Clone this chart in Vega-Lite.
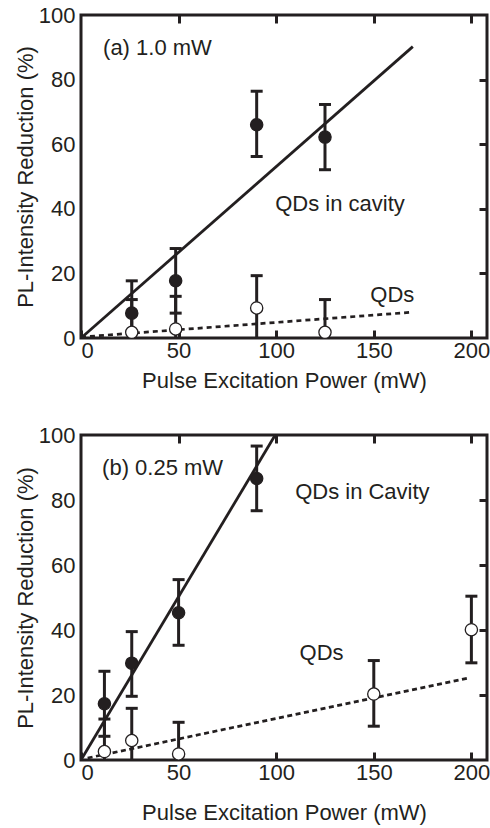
{
  "$schema": "https://vega.github.io/schema/vega-lite/v6.json",
  "autosize": {"type": "pad"},
  "padding": {"left": 12, "top": 2, "right": 0, "bottom": 0},
  "background": "white",
  "spacing": 97,
  "bounds": "flush",
  "datasets": {
    "a_pts": [
      {"p": 26, "r": 7.7, "lo": -2.3, "hi": 17.7, "s": "cavity"},
      {"p": 48.5, "r": 17.7, "lo": 7.7, "hi": 27.7, "s": "cavity"},
      {"p": 90, "r": 66.0, "lo": 56.2, "hi": 76.4, "s": "cavity"},
      {"p": 125, "r": 62.2, "lo": 52.1, "hi": 72.3, "s": "cavity"},
      {"p": 26, "r": 1.75, "lo": -8.2, "hi": 11.9, "s": "bare"},
      {"p": 48.5, "r": 2.8, "lo": -7.2, "hi": 12.9, "s": "bare"},
      {"p": 90, "r": 9.3, "lo": -0.7, "hi": 19.3, "s": "bare"},
      {"p": 125, "r": 1.75, "lo": -8.2, "hi": 11.9, "s": "bare"}
    ],
    "a_fit": [
      {"p": 0, "r": 0, "s": "cavity"},
      {"p": 170, "r": 90.2, "s": "cavity"},
      {"p": 0, "r": 0.3, "s": "bare"},
      {"p": 170, "r": 8.0, "s": "bare"}
    ],
    "a_lab": [
      {"p": 11.3, "r": 89.8, "t": "(a) 1.0 mW"},
      {"p": 99.5, "r": 41.5, "t": "QDs in cavity"},
      {"p": 148.2, "r": 13.3, "t": "QDs"}
    ],
    "b_pts": [
      {"p": 12, "r": 17.3, "lo": 7.3, "hi": 27.3, "s": "cavity"},
      {"p": 26, "r": 29.8, "lo": 19.6, "hi": 39.5, "s": "cavity"},
      {"p": 50, "r": 45.3, "lo": 35.3, "hi": 55.5, "s": "cavity"},
      {"p": 90, "r": 86.6, "lo": 76.7, "hi": 96.6, "s": "cavity"},
      {"p": 12, "r": 2.6, "lo": -7.4, "hi": 12.6, "s": "bare"},
      {"p": 26, "r": 6.0, "lo": -4.0, "hi": 15.9, "s": "bare"},
      {"p": 50, "r": 1.85, "lo": -8.2, "hi": 11.6, "s": "bare"},
      {"p": 150, "r": 20.3, "lo": 10.4, "hi": 30.6, "s": "bare"},
      {"p": 200, "r": 40.1, "lo": 29.9, "hi": 50.4, "s": "bare"}
    ],
    "b_fit": [
      {"p": 0, "r": 0, "s": "cavity"},
      {"p": 99.5, "r": 100, "s": "cavity"},
      {"p": 3.4, "r": 0.6, "s": "bare"},
      {"p": 198.3, "r": 25.2, "s": "bare"}
    ],
    "b_lab": [
      {"p": 10.8, "r": 89.8, "t": "(b) 0.25 mW"},
      {"p": 109.7, "r": 82.5, "t": "QDs in Cavity"},
      {"p": 112, "r": 32.9, "t": "QDs"}
    ]
  },
  "config": {
    "view": {"stroke": "#231f20", "strokeWidth": 3},
    "axis": {
      "grid": false,
      "domain": false,
      "labelFont": "Liberation Sans",
      "titleFont": "Liberation Sans",
      "labelFontSize": 22,
      "titleFontSize": 22,
      "titleFontWeight": "normal",
      "labelColor": "#231f20",
      "titleColor": "#231f20",
      "tickColor": "#231f20",
      "tickWidth": 3
    },
    "text": {"font": "Liberation Sans", "fontSize": 22, "color": "#231f20"}
  },
  "vconcat": [
    {
      "width": 406,
      "height": 323,
      "resolve": {"axis": {"x": "independent", "y": "independent"}},
      "layer": [
        {
          "data": {"name": "a_fit"},
          "transform": [{"filter": "datum.s == 'cavity'"}],
          "mark": {"type": "line", "color": "#231f20", "strokeWidth": 2.8, "clip": true},
          "encoding": {
            "x": {"field": "p", "type": "quantitative", "scale": {"domain": [0, 208], "nice": false},
              "axis": {"orient": "bottom", "values": [0, 50, 100, 150, 200], "tickSize": -8, "labelPadding": 10, "title": "Pulse Excitation Power (mW)", "titlePadding": 9}},
            "y": {"field": "r", "type": "quantitative", "scale": {"domain": [0, 100], "nice": false},
              "axis": {"orient": "left", "values": [0, 20, 40, 60, 80, 100], "ticks": false, "labelPadding": 6, "title": "PL-Intensity Reduction (%)", "titlePadding": 1}}
          }
        },
        {
          "data": {"name": "a_fit"},
          "transform": [{"filter": "datum.s == 'bare'"}],
          "mark": {"type": "line", "color": "#231f20", "strokeWidth": 2.7, "strokeDash": [5, 4], "clip": true},
          "encoding": {
            "x": {"field": "p", "type": "quantitative", "axis": {"orient": "top", "values": [50, 100, 150, 200], "tickSize": -8, "labels": false, "title": null}},
            "y": {"field": "r", "type": "quantitative", "axis": {"orient": "right", "values": [20, 40, 60, 80], "tickSize": -8, "labels": false, "title": null}}
          }
        },
        {
          "data": {"name": "a_pts"},
          "mark": {"type": "rule", "color": "#231f20", "strokeWidth": 3, "opacity": 1, "clip": true},
          "encoding": {
            "x": {"field": "p", "type": "quantitative", "axis": null},
            "y": {"field": "lo", "type": "quantitative", "axis": null},
            "y2": {"field": "hi"}
          }
        },
        {
          "data": {"name": "a_pts"},
          "transform": [{"fold": ["lo", "hi"], "as": ["k", "v"]}],
          "mark": {"type": "tick", "orient": "horizontal", "color": "#231f20", "size": 12, "thickness": 3, "opacity": 1, "clip": true},
          "encoding": {
            "x": {"field": "p", "type": "quantitative", "axis": null},
            "y": {"field": "v", "type": "quantitative", "axis": null}
          }
        },
        {
          "data": {"name": "a_pts"},
          "mark": {"type": "point", "shape": "circle", "filled": true, "size": 150, "stroke": "#231f20", "strokeWidth": 1.3, "opacity": 1},
          "encoding": {
            "x": {"field": "p", "type": "quantitative", "axis": null},
            "y": {"field": "r", "type": "quantitative", "axis": null},
            "fill": {"field": "s", "type": "nominal", "scale": {"domain": ["cavity", "bare"], "range": ["#231f20", "white"]}, "legend": null}
          }
        },
        {
          "data": {"name": "a_lab"},
          "mark": {"type": "text", "align": "left", "baseline": "middle"},
          "encoding": {
            "x": {"field": "p", "type": "quantitative", "axis": null},
            "y": {"field": "r", "type": "quantitative", "axis": null},
            "text": {"field": "t"}
          }
        }
      ]
    },
    {
      "width": 406,
      "height": 325,
      "resolve": {"axis": {"x": "independent", "y": "independent"}},
      "layer": [
        {
          "data": {"name": "b_fit"},
          "transform": [{"filter": "datum.s == 'cavity'"}],
          "mark": {"type": "line", "color": "#231f20", "strokeWidth": 2.8, "clip": true},
          "encoding": {
            "x": {"field": "p", "type": "quantitative", "scale": {"domain": [0, 208], "nice": false},
              "axis": {"orient": "bottom", "values": [0, 50, 100, 150, 200], "tickSize": -8, "labelPadding": 10, "title": "Pulse Excitation Power (mW)", "titlePadding": 19}},
            "y": {"field": "r", "type": "quantitative", "scale": {"domain": [0, 100], "nice": false},
              "axis": {"orient": "left", "values": [0, 20, 40, 60, 80, 100], "ticks": false, "labelPadding": 6, "title": "PL-Intensity Reduction (%)", "titlePadding": 1}}
          }
        },
        {
          "data": {"name": "b_fit"},
          "transform": [{"filter": "datum.s == 'bare'"}],
          "mark": {"type": "line", "color": "#231f20", "strokeWidth": 2.7, "strokeDash": [5, 3.5], "clip": true},
          "encoding": {
            "x": {"field": "p", "type": "quantitative", "axis": {"orient": "top", "values": [50, 100, 150, 200], "tickSize": -8, "labels": false, "title": null}},
            "y": {"field": "r", "type": "quantitative", "axis": {"orient": "right", "values": [20, 40, 60, 80], "tickSize": -8, "labels": false, "title": null}}
          }
        },
        {
          "data": {"name": "b_pts"},
          "mark": {"type": "rule", "color": "#231f20", "strokeWidth": 3, "opacity": 1, "clip": true},
          "encoding": {
            "x": {"field": "p", "type": "quantitative", "axis": null},
            "y": {"field": "lo", "type": "quantitative", "axis": null},
            "y2": {"field": "hi"}
          }
        },
        {
          "data": {"name": "b_pts"},
          "transform": [{"fold": ["lo", "hi"], "as": ["k", "v"]}],
          "mark": {"type": "tick", "orient": "horizontal", "color": "#231f20", "size": 12, "thickness": 3, "opacity": 1, "clip": true},
          "encoding": {
            "x": {"field": "p", "type": "quantitative", "axis": null},
            "y": {"field": "v", "type": "quantitative", "axis": null}
          }
        },
        {
          "data": {"name": "b_pts"},
          "mark": {"type": "point", "shape": "circle", "filled": true, "size": 150, "stroke": "#231f20", "strokeWidth": 1.3, "opacity": 1},
          "encoding": {
            "x": {"field": "p", "type": "quantitative", "axis": null},
            "y": {"field": "r", "type": "quantitative", "axis": null},
            "fill": {"field": "s", "type": "nominal", "scale": {"domain": ["cavity", "bare"], "range": ["#231f20", "white"]}, "legend": null}
          }
        },
        {
          "data": {"name": "b_lab"},
          "mark": {"type": "text", "align": "left", "baseline": "middle"},
          "encoding": {
            "x": {"field": "p", "type": "quantitative", "axis": null},
            "y": {"field": "r", "type": "quantitative", "axis": null},
            "text": {"field": "t"}
          }
        }
      ]
    }
  ]
}
